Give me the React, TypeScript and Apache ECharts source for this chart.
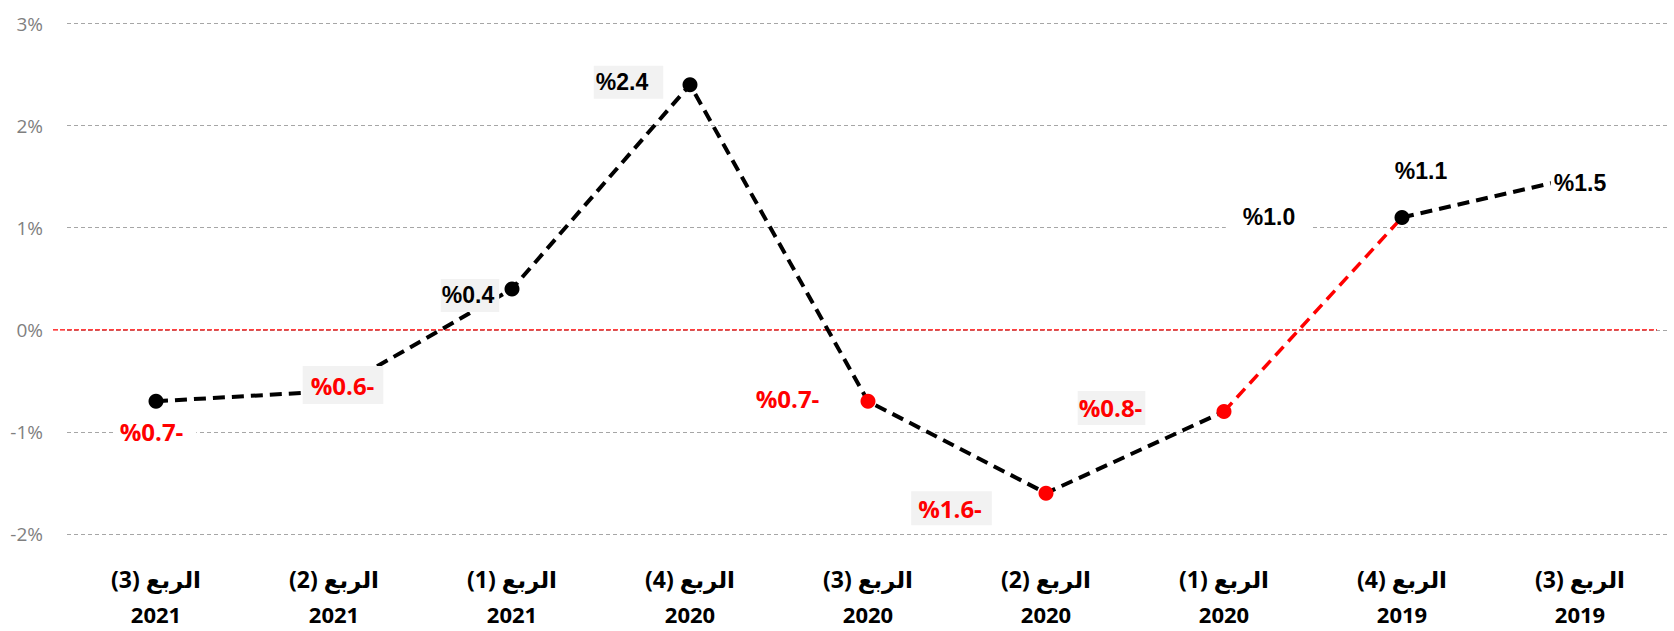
import React, { useEffect, useRef } from 'react';
import * as echarts from 'echarts';

// ---- data ----
const quarters = ['الربع (3)', 'الربع (2)', 'الربع (1)', 'الربع (4)', 'الربع (3)', 'الربع (2)', 'الربع (1)', 'الربع (4)', 'الربع (3)'];
const years = ['2021', '2021', '2021', '2020', '2020', '2020', '2020', '2019', '2019'];
const values = [-0.7, -0.6, 0.4, 2.4, -0.7, -1.6, -0.8, 1.1, 1.5];
const annotationIndex = 6;
const annotationValue = 1.0;
const yMin = -2;
const yMax = 3;
const yInterval = 1;

// ---- styles ----
const RED = '#ff0000';
const BLACK = '#000000';
const markerColors = [BLACK, BLACK, BLACK, BLACK, RED, RED, RED, BLACK, BLACK];
const labelStyles: any[] = [
  { offset: [0, 30.5], bg: '#ffffff', padding: [2, 13, 2, 4], red: true },
  { offset: [9, -6], bg: '#f2f2f2', padding: [6, 9, 6, 8], red: true },
  { offset: [-42, 6.5], bg: '#f2f2f2', padding: [4, 5, 4, 1], red: false },
  { offset: [-61.5, -2.5], bg: '#f2f2f2', padding: [4, 15, 4, 2], red: false },
  { offset: [-80.5, -2.5], bg: 'transparent', padding: 0, red: true },
  { offset: [-94.5, 15], bg: '#f2f2f2', padding: [4, 10, 4, 7], red: true },
  { offset: [-112.5, -3.5], bg: '#f2f2f2', padding: [4, 3, 4, 1], red: true },
  { offset: [19, -46], bg: 'transparent', padding: 0, red: false },
  { offset: [0, 6.5], bg: '#ffffff', padding: [6, 3, 3, 3], red: false },
];

const categories = quarters.map((q, i) => `\u2067${q}\u2069\n${years[i]}`);

function pct(v: number) {
  const a = Math.abs(v).toFixed(1);
  return v < 0 ? `%${a}-` : `%${a}`;
}

function labelFont(red: boolean) {
  return red
    ? { color: RED, fontFamily: '"Open Sans", sans-serif', fontWeight: 'bold', fontSize: 24, lineHeight: 26, opacity: 1 }
    : { color: BLACK, fontFamily: '"Liberation Sans", Arial, sans-serif', fontWeight: 'bold', fontSize: 23, lineHeight: 25, opacity: 1 };
}

const axisFont = {
  fontFamily: '"Open Sans", "DejaVu Sans", sans-serif',
  fontWeight: 'bold',
  fontSize: 23,
  color: '#000000',
};

export default function App() {
  const ref = useRef<HTMLDivElement>(null);
  useEffect(() => {
    document.body.style.margin = '0';
    if (!ref.current) return;
    const chart = echarts.init(ref.current, undefined, { renderer: 'svg' });
    const lineStyleBlack = { color: BLACK, width: 4, type: [12, 7] };
    const lineStyleRed = { color: RED, width: 3.5, type: [12, 7] };
    chart.setOption({
      animation: false,
      backgroundColor: '#ffffff',
      grid: [
        { left: 67, right: 5, top: 23.5, bottom: 97, outerBoundsMode: 'none', containLabel: false },
        { left: 53, right: 17, top: 23.5, bottom: 97, outerBoundsMode: 'none', containLabel: false },
      ],
      xAxis: [
        {
          type: 'category',
          gridIndex: 0,
          data: categories,
          boundaryGap: true,
          axisLine: { show: false },
          axisTick: { show: false },
          axisLabel: {
            interval: 0,
            margin: 20,
            ...axisFont,
            formatter: (val: string) => {
              const parts = val.split('\n');
              return `{q|${parts[0]}}\n{y|${parts[1]}}`;
            },
            rich: {
              q: { ...axisFont, lineHeight: 50 },
              y: { ...axisFont, fontSize: 22, lineHeight: 20 },
            },
          },
        },
        { type: 'value', gridIndex: 1, min: 0, max: 1, show: false },
      ],
      yAxis: [
        {
          type: 'value',
          gridIndex: 0,
          min: yMin,
          max: yMax,
          interval: yInterval,
          axisLine: { show: false },
          axisTick: { show: false },
          axisLabel: {
            formatter: '{value}%',
            color: '#7f7f7f',
            fontSize: 19,
            fontFamily: '"Open Sans", sans-serif',
            margin: 24,
          },
          splitLine: { lineStyle: { color: '#a6a6a6', width: 1, type: [4, 3] } },
        },
        { type: 'value', gridIndex: 1, min: yMin, max: yMax, show: false },
      ],
      series: [
        {
          type: 'line',
          xAxisIndex: 1,
          yAxisIndex: 1,
          data: [[0, 0], [1, 0]],
          symbol: 'none',
          silent: true,
          lineStyle: { color: RED, width: 1.2, type: [5, 2] },
          z: 1,
        },
        {
          type: 'line',
          data: values.map((v, i) => (i <= 6 ? v : null)),
          symbol: 'none',
          showSymbol: false,
          lineStyle: lineStyleBlack,
          z: 2,
        },
        {
          type: 'line',
          data: values.map((v, i) => (i >= 7 ? v : null)),
          symbol: 'none',
          showSymbol: false,
          lineStyle: lineStyleBlack,
          z: 2,
        },
        {
          type: 'line',
          data: values.map((v, i) => (i === 6 || i === 7 ? v : null)),
          symbol: 'none',
          showSymbol: false,
          lineStyle: lineStyleRed,
          z: 2,
        },
        {
          type: 'scatter',
          symbol: 'circle',
          symbolSize: 15,
          z: 3,
          itemStyle: { opacity: 1 },
          data: values.map((v, i) => {
            const s = labelStyles[i];
            return {
              value: v,
              itemStyle: { color: markerColors[i], opacity: 1 },
              label: {
                show: true,
                position: 'inside',
                offset: s.offset,
                formatter: pct(v),
                backgroundColor: s.bg,
                padding: s.padding,
                ...labelFont(s.red),
              },
            };
          }),
          markPoint: {
            symbol: 'circle',
            symbolSize: 1,
            itemStyle: { color: 'rgba(0,0,0,0)' },
            data: [
              {
                coord: [annotationIndex, annotationValue],
                value: annotationValue,
                label: {
                  show: true,
                  position: 'inside',
                  offset: [44, -11],
                  formatter: pct(annotationValue),
                  backgroundColor: '#ffffff',
                  padding: [4, 15, 4, 17],
                  ...labelFont(false),
                },
              },
            ],
          },
        },
      ],
    });
    return () => chart.dispose();
  }, []);
  return <div ref={ref} style={{ width: 1674, height: 631 }} />;
}
